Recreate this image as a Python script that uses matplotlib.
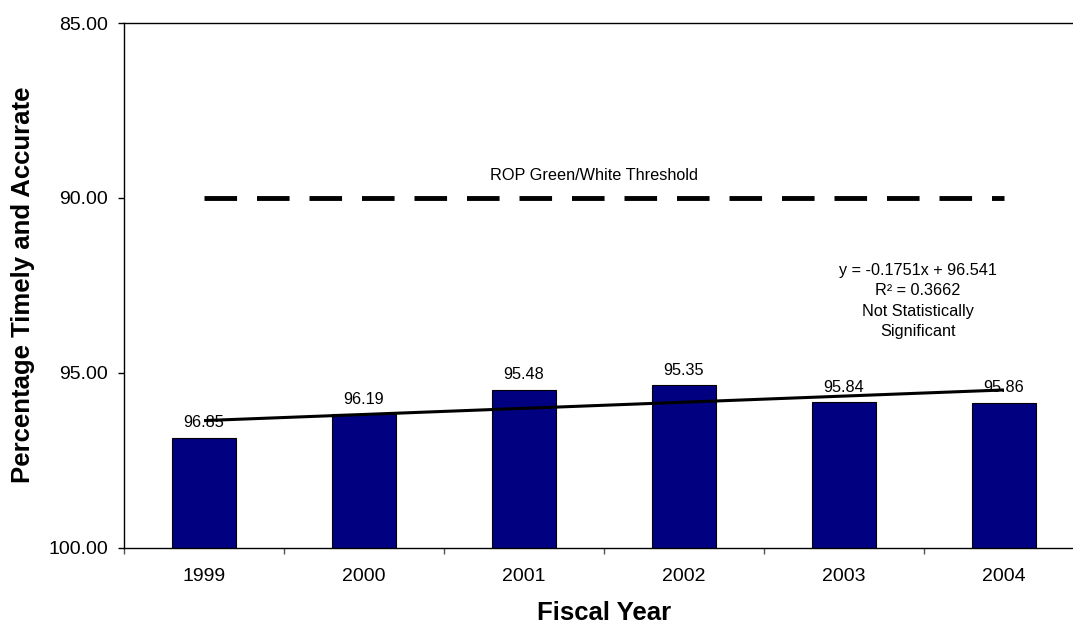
import matplotlib
matplotlib.use("Agg")
import matplotlib.pyplot as plt
import numpy as np

plt.rcParams['font.family'] = ['Liberation Sans', 'DejaVu Sans']

years = ['1999', '2000', '2001', '2002', '2003', '2004']
values = [96.85, 96.19, 95.48, 95.35, 95.84, 95.86]
value_labels = ['96.85', '96.19', '95.48', '95.35', '95.84', '95.86']
threshold = 90.0
slope = -0.1751
intercept = 96.541
y_ticks = [85, 90, 95, 100]
eq_text = "y = -0.1751x + 96.541\nR\u00b2 = 0.3662\nNot Statistically\nSignificant"

fig = plt.figure(figsize=(10.73, 6.26), dpi=100)
ax = fig.add_axes([124/1073, (626-547.7)/626, 960/1073, 524.7/626])

x = np.arange(len(years))
vals = np.array(values)
ax.bar(x, vals - 100, bottom=100, width=0.405, color='#000080',
       edgecolor='black', linewidth=0.8, zorder=2)

for xi, v, lab in zip(x, vals, value_labels):
    ax.annotate(lab, (xi, v), xytext=(0, 7.5), textcoords='offset points',
                ha='center', va='baseline', fontsize=11.7, zorder=3)

# trend line (Excel x = 1..n)
trend = slope * (x + 1) + intercept
ax.plot(x, trend, color='black', linewidth=2.2, zorder=4, solid_capstyle='butt')

# threshold line
ax.plot([x[0], x[-1]], [threshold, threshold], color='black', linewidth=3.5,
        linestyle=(0, (6.7, 4.1)), dash_capstyle='butt', zorder=3)
ax.text(2.44, 89.5, 'ROP Green/White Threshold', ha='center', va='baseline',
        fontsize=11.7)

ax.text(4.4625, 92.95, eq_text, ha='center', va='center', fontsize=11.7,
        linespacing=1.45)

ax.set_xlim(-0.5, len(years) - 0.5)
ax.set_ylim(100, 85)
ax.set_yticks(y_ticks)
ax.set_yticklabels([f"{t:.2f}" for t in y_ticks])
ax.set_xticks(x)
ax.set_xticklabels(years)
ax.set_xticks(np.arange(len(years) + 1) - 0.5, minor=True)
ax.tick_params(axis='x', which='major', length=0, pad=14.5, labelsize=14)
ax.tick_params(axis='x', which='minor', length=4.5, width=1, color='#555555', direction='out')
ax.tick_params(axis='y', length=4.5, width=1, pad=7, labelsize=14, direction='out')

for s in ['left', 'bottom', 'top']:
    ax.spines[s].set_linewidth(1.0)
    ax.spines[s].set_color('black')
ax.spines['right'].set_visible(False)

fig.text(604/1073, 1 - 613/626, 'Fiscal Year', ha='center', va='center',
         fontsize=18.5, fontweight='bold')
fig.text(23/1073, 1 - 285/626, 'Percentage Timely and Accurate', ha='center',
         va='center', rotation=90, fontsize=18.5, fontweight='bold')

fig.savefig('out.png', dpi=100)
